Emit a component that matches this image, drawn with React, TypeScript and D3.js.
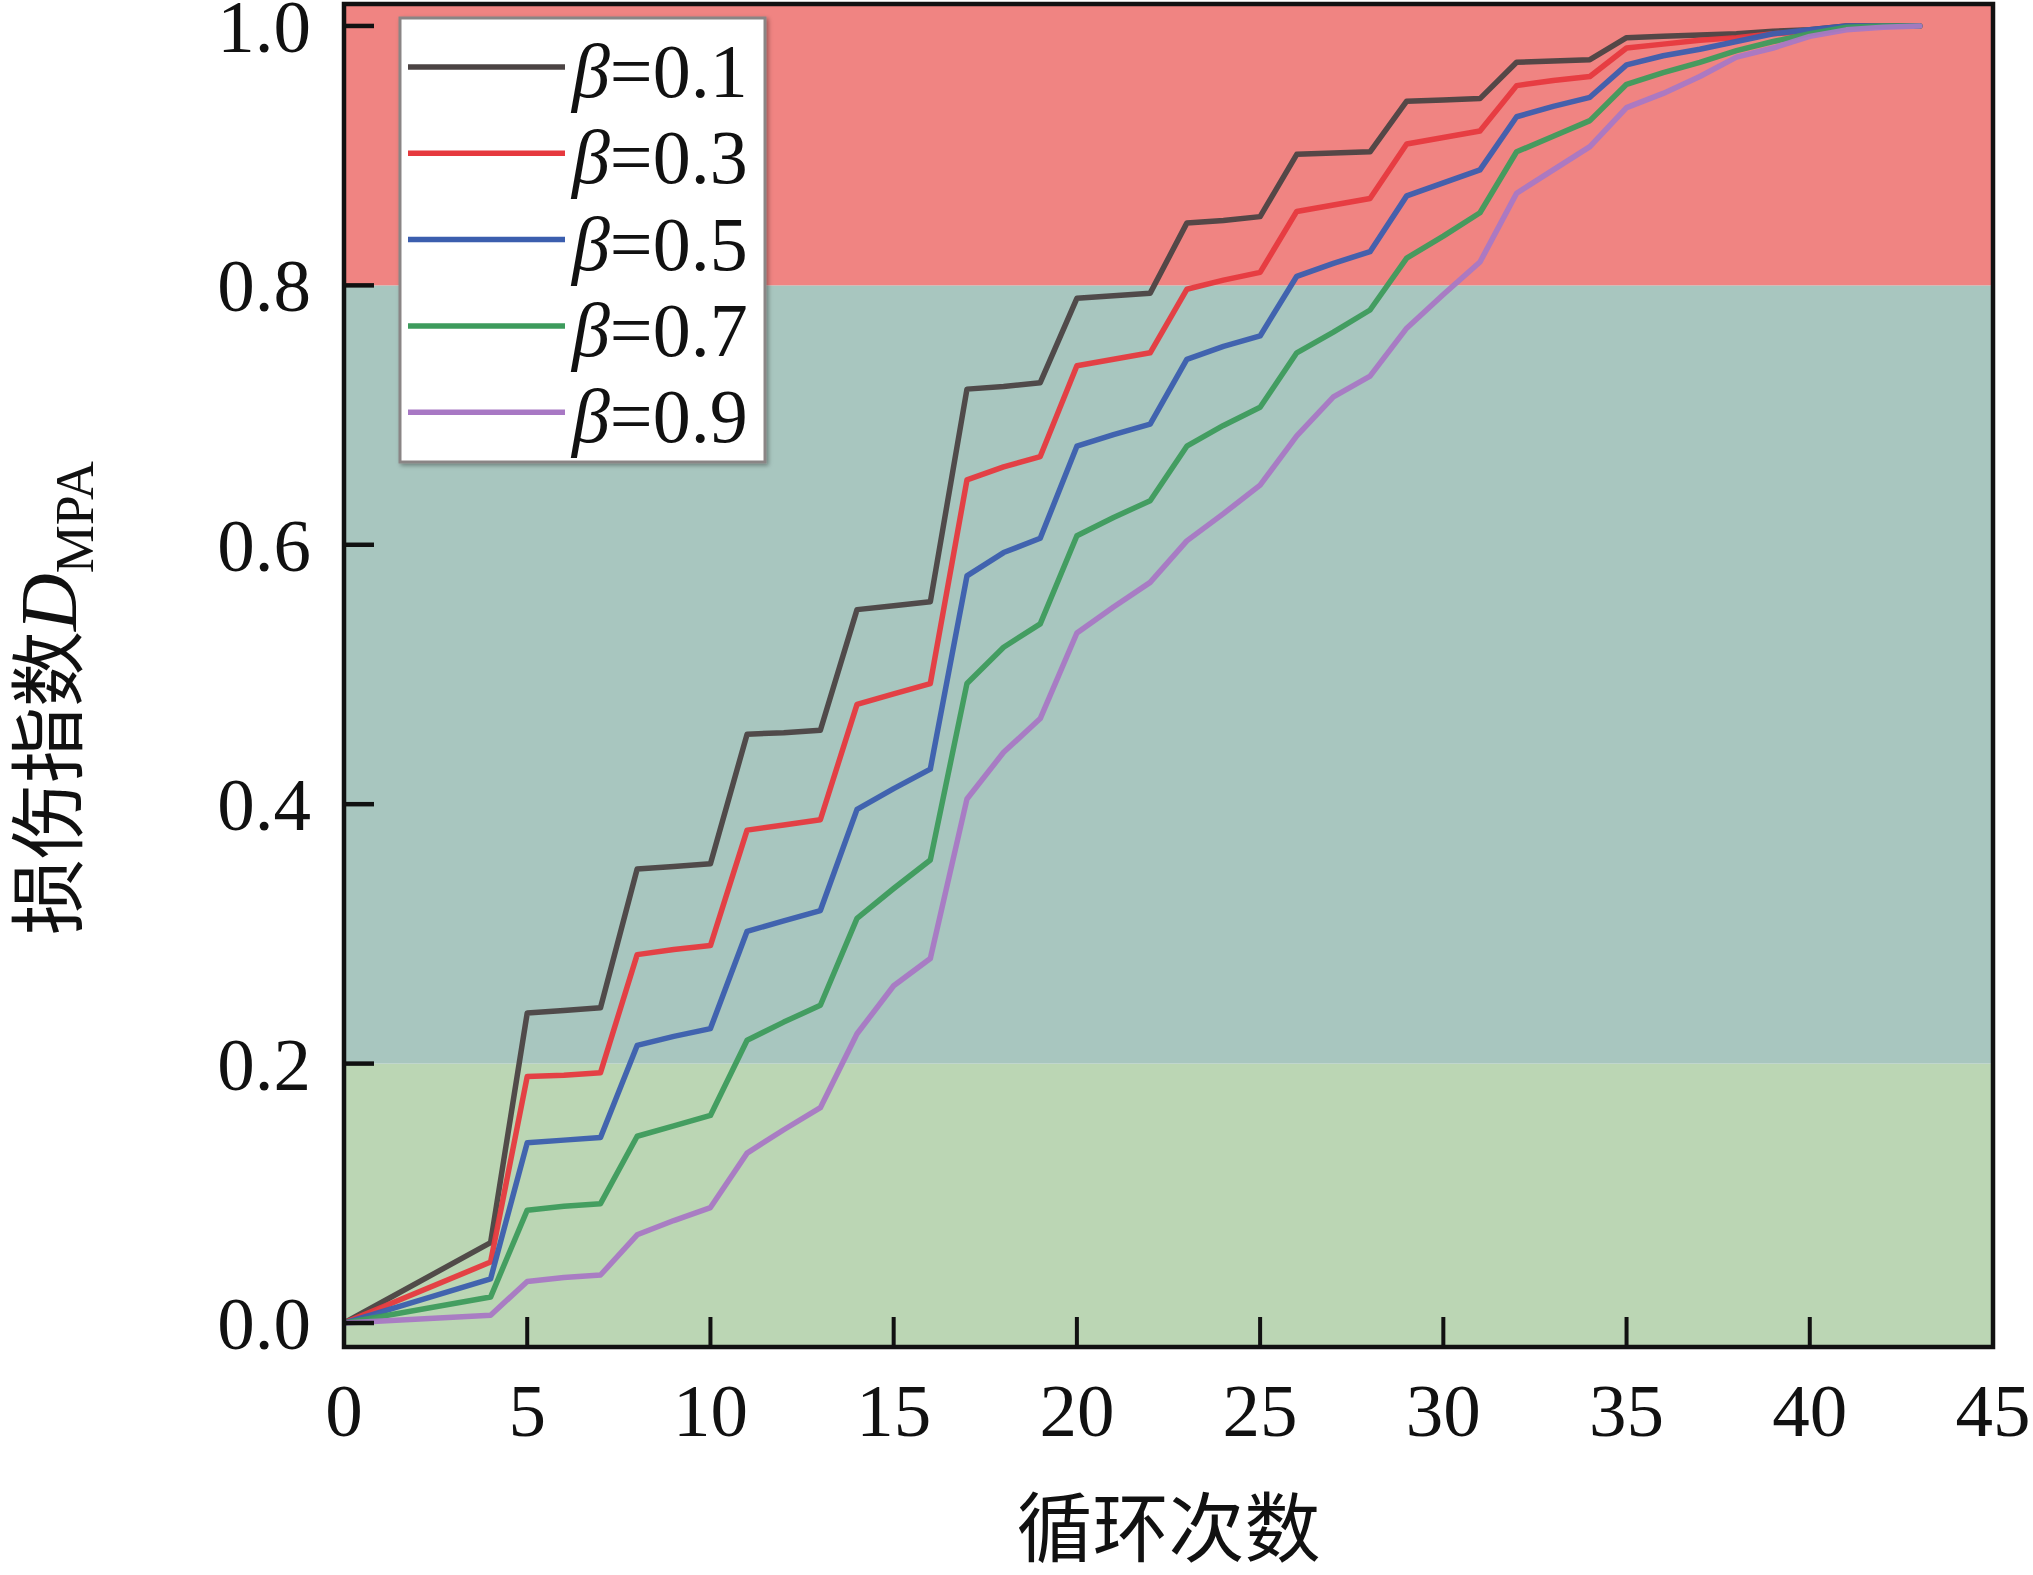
import React from "react";
import * as d3 from "d3";

// ---------- data ----------
const cycles = [0, 4, 5, 6, 7, 8, 9, 10, 11, 12, 13, 14, 15, 16, 17, 18, 19, 20, 21, 22, 23, 24, 25, 26, 27, 28, 29, 30, 31, 32, 33, 34, 35, 36, 37, 38, 39, 40, 41, 42, 43];

const beta01 = [0, 0.062, 0.239, 0.241, 0.243, 0.35, 0.352, 0.354, 0.454, 0.455, 0.457, 0.55, 0.553, 0.556, 0.72, 0.722, 0.725, 0.79, 0.792, 0.794, 0.848, 0.85, 0.853, 0.901, 0.902, 0.903, 0.942, 0.943, 0.944, 0.972, 0.973, 0.974, 0.991, 0.992, 0.993, 0.994, 0.996, 0.997, 1.0, 1.0, 1.0];
const beta03 = [0, 0.047, 0.19, 0.191, 0.193, 0.284, 0.288, 0.291, 0.38, 0.384, 0.388, 0.477, 0.485, 0.493, 0.65, 0.66, 0.668, 0.738, 0.743, 0.748, 0.797, 0.804, 0.81, 0.857, 0.862, 0.867, 0.909, 0.914, 0.919, 0.954, 0.958, 0.961, 0.983, 0.986, 0.989, 0.991, 0.994, 0.996, 0.999, 1.0, 1.0];
const beta05 = [0, 0.034, 0.139, 0.141, 0.143, 0.214, 0.221, 0.227, 0.302, 0.31, 0.318, 0.396, 0.412, 0.427, 0.576, 0.594, 0.605, 0.676, 0.685, 0.693, 0.743, 0.753, 0.761, 0.807, 0.817, 0.826, 0.869, 0.879, 0.889, 0.93, 0.938, 0.945, 0.97, 0.977, 0.982, 0.988, 0.994, 0.997, 1.0, 1.0, 1.0];
const beta07 = [0, 0.02, 0.087, 0.09, 0.092, 0.144, 0.152, 0.16, 0.218, 0.232, 0.245, 0.312, 0.335, 0.357, 0.493, 0.521, 0.539, 0.607, 0.621, 0.634, 0.676, 0.692, 0.706, 0.748, 0.764, 0.781, 0.821, 0.838, 0.856, 0.903, 0.915, 0.927, 0.955, 0.964, 0.972, 0.981, 0.988, 0.994, 0.999, 1.0, 1.0];
const beta09 = [0, 0.006, 0.032, 0.035, 0.037, 0.068, 0.079, 0.089, 0.131, 0.149, 0.166, 0.223, 0.26, 0.281, 0.404, 0.44, 0.466, 0.532, 0.552, 0.571, 0.603, 0.624, 0.646, 0.684, 0.714, 0.73, 0.767, 0.793, 0.818, 0.871, 0.889, 0.907, 0.937, 0.948, 0.961, 0.976, 0.983, 0.992, 0.997, 0.999, 1.0];

const seriesLabels = ["0.1", "0.3", "0.5", "0.7", "0.9"];
const seriesValues = [beta01, beta03, beta05, beta07, beta09];
const seriesColors = ["#4b4343", "#e6393e", "#3b5eae", "#3d9b5c", "#a878c4"];

const xTicks = [0, 5, 10, 15, 20, 25, 30, 35, 40, 45];
const yTicks = [0, 0.2, 0.4, 0.6, 0.8, 1.0];

// damage-state bands (edges in data units) and their fills
const bandEdges = [-0.0185, 0.2, 0.8, 1.0177];
const bandColors = ["#bbd6b4", "#a8c6bf", "#f08482"];

const xTitle = "循环次数";
const yTitleMain = "损伤指数";
const yTitleVar = "D";
const yTitleSub = "MPA";

// ---------- layout ----------
const W = 2033;
const H = 1575;
const left = 344;
const right = 1993;
const top = 3;
const bottom = 1347;

const serif = '"Liberation Serif", "Times New Roman", serif';
const cjk = '"Noto Sans CJK SC", sans-serif';

export default function App() {
  const x = d3.scaleLinear().domain([0, 45]).range([left, right]);
  const y = d3.scaleLinear().domain([bandEdges[0], bandEdges[3]]).range([bottom, top]);

  const line = d3
    .line<number>()
    .x((_, i) => x(cycles[i]))
    .y((d) => y(d));

  const tickLen = 30;
  const fontSize = 75;

  const legendX = 400;
  const legendY = 18;
  const legendW = 365;
  const legendH = 444;
  const rowY0 = 67;
  const rowStep = 86.3;

  return (
    <svg
      width={W}
      height={H}
      viewBox={`0 0 ${W} ${H}`}
      style={{ position: "absolute", left: 0, top: 0, background: "#ffffff" }}
    >
      <defs>
        <clipPath id="plotClip">
          <rect x={left} y={top} width={right - left} height={bottom - top} />
        </clipPath>
        <filter id="shadow" x="-5%" y="-5%" width="115%" height="115%">
          <feDropShadow dx="2" dy="2" stdDeviation="2" floodColor="#000" floodOpacity="0.35" />
        </filter>
      </defs>

      {/* bands */}
      {bandColors.map((c, i) => (
        <rect
          key={"band" + i}
          x={left}
          y={y(bandEdges[i + 1])}
          width={right - left}
          height={y(bandEdges[i]) - y(bandEdges[i + 1])}
          fill={c}
        />
      ))}

      {/* lines */}
      <g clipPath="url(#plotClip)">
        {seriesValues.map((vals, i) => (
          <path
            key={"s" + i}
            d={line(vals) || ""}
            fill="none"
            stroke={seriesColors[i]}
            strokeWidth={5.5}
            strokeLinejoin="round"
            strokeLinecap="round"
            opacity={0.95}
          />
        ))}
      </g>

      {/* ticks */}
      {xTicks
        .filter((t) => t > 0 && t < 45)
        .map((t) => (
          <line
            key={"xt" + t}
            x1={x(t)}
            x2={x(t)}
            y1={bottom}
            y2={bottom - tickLen}
            stroke="#111"
            strokeWidth={4}
          />
        ))}
      {yTicks.map((t) => (
        <line
          key={"yt" + t}
          x1={left}
          x2={left + tickLen}
          y1={y(t)}
          y2={y(t)}
          stroke="#111"
          strokeWidth={4.5}
        />
      ))}

      {/* frame */}
      <rect
        x={left}
        y={top + 1}
        width={right - left}
        height={bottom - top - 1}
        fill="none"
        stroke="#111"
        strokeWidth={4.5}
      />

      {/* tick labels */}
      {xTicks.map((t) => (
        <text
          key={"xl" + t}
          x={x(t)}
          y={1436}
          textAnchor="middle"
          fontFamily={serif}
          fontSize={fontSize}
          fill="#111"
        >
          {t}
        </text>
      ))}
      {yTicks.map((t) => (
        <text
          key={"yl" + t}
          x={311}
          y={y(t) + 26}
          textAnchor="end"
          fontFamily={serif}
          fontSize={fontSize}
          fill="#111"
        >
          {t.toFixed(1)}
        </text>
      ))}

      {/* legend */}
      <rect
        x={legendX}
        y={legendY}
        width={legendW}
        height={legendH}
        fill="#ffffff"
        stroke="#8a8585"
        strokeWidth={3}
        filter="url(#shadow)"
      />
      {seriesLabels.map((lab, i) => {
        const ry = rowY0 + i * rowStep;
        return (
          <g key={"lg" + i}>
            <line x1={408} x2={565} y1={ry} y2={ry} stroke={seriesColors[i]} strokeWidth={5.5} />
            <text x={572} y={ry + 30} fontFamily={serif} fontSize={76} fill="#111">
              <tspan fontStyle="italic">β</tspan>
              {"=" + lab}
            </text>
          </g>
        );
      })}

      {/* axis titles */}
      <text
        x={(left + right) / 2}
        y={1556}
        textAnchor="middle"
        fontFamily={cjk}
        fontSize={76}
        fill="#111"
      >
        {xTitle}
      </text>
      <text
        transform={`translate(76, 698) rotate(-90)`}
        textAnchor="middle"
        fill="#111"
      >
        <tspan fontFamily={cjk} fontSize={76}>
          {yTitleMain}
        </tspan>
        <tspan fontFamily={serif} fontStyle="italic" fontSize={80}>
          {yTitleVar}
        </tspan>
        <tspan fontFamily={serif} fontSize={54} dy={17}>
          {yTitleSub}
        </tspan>
      </text>
    </svg>
  );
}
